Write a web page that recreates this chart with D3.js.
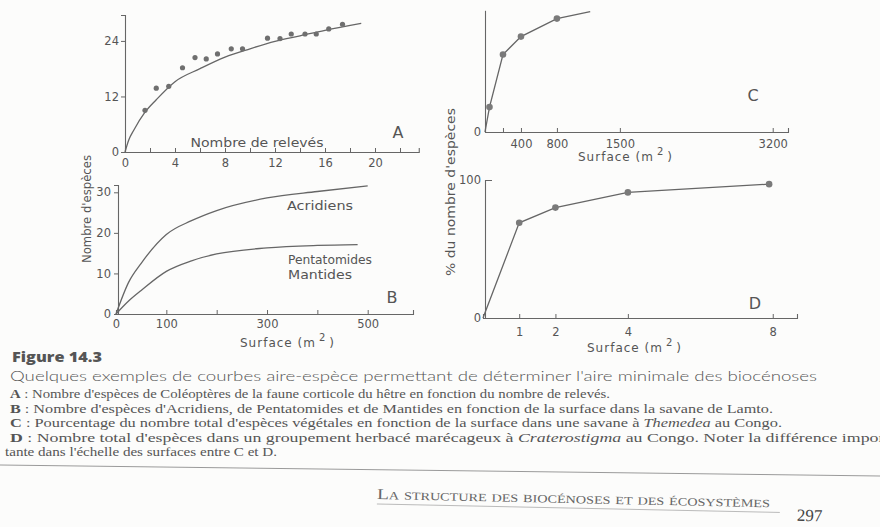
<!DOCTYPE html>
<html>
<head>
<meta charset="utf-8">
<script src="https://cdn.jsdelivr.net/npm/d3@7"></script>
<style>
  body { margin: 0; background: #fcfcfb; }
  svg { display: block; }
</style>
</head>
<body>
<script>
// --- panel A : Coléoptères, nombre de relevés
const relevesA = [1.6, 2.5, 3.5, 4.6, 5.6, 6.5, 7.4, 8.5, 9.4, 11.4, 12.4, 13.3, 14.4, 15.3, 16.3, 17.4];
const especesA = [9, 13.8, 14.2, 18.2, 20.4, 20.1, 21.2, 22.3, 22.3, 24.6, 24.5, 25.5, 25.5, 25.5, 26.6, 27.6];
const courbeAx = [0, 0.3, 0.7, 1.6, 2.5, 4, 6, 8, 10, 12, 14, 16, 18.9];
const courbeAy = [0, 2.6, 4.7, 8.6, 11.3, 15.2, 18, 20.5, 22.3, 23.9, 25.1, 26.3, 27.8];
const ticksAx = [0, 2, 4, 6, 8, 10, 12, 14, 16, 18, 20, 22];
const labelsAx = [0, 4, 8, 12, 16, 20];
const ticksAy = [0, 12, 24];

// --- panel B : Acridiens / Pentatomides-Mantides
const surfaceB1 = [0, 25, 50, 100, 150, 200, 300, 400, 500];
const acridiens = [0, 7.8, 12.5, 19.6, 23, 25.5, 28.6, 30.2, 31.6];
const surfaceB2 = [0, 25, 50, 100, 150, 200, 300, 400, 480];
const pentaMantides = [0, 3.2, 5.8, 10.5, 13.1, 14.8, 16.3, 16.9, 17.1];
const ticksBx = [0, 100, 200, 300, 400, 500];
const labelsBx = [0, 100, 300, 500];
const ticksBy = [0, 10, 20, 30];

// --- panel C : savane à Themedea
const surfaceC = [50, 200, 400, 800];
const pctC = [18, 56, 69, 82];
const finC = [1170, 87];   // the line runs on past the last point
const ticksCx = [200, 400, 800, 1500, 3200];
const labelsCx = [400, 800, 1500, 3200];

// --- panel D : groupement herbacé à Craterostigma
const surfaceD = [1, 2, 4, 7.9];
const pctD = [69, 80, 91, 97];
const ticksDx = [1, 2, 4, 8];
const ticksDy = [0, 100];

const W = 880, H = 527;
const ink = '#666';
const lettering = 'DejaVu Sans, sans-serif';

const svg = d3.select('body').append('svg')
  .attr('width', W)
  .attr('height', H);

svg.append('rect').attr('width', W).attr('height', H).attr('fill', '#fcfcfb');

function styleAxis(g) {
  g.attr('color', ink)
    .attr('font-family', lettering)
    .attr('font-size', 11.5);
  g.select('.domain').attr('stroke-width', 1.1);
  g.selectAll('.tick line').attr('stroke-width', 1);
  g.selectAll('.tick text').attr('fill', '#555');
}

function label(x, y, txt, size, opts = {}) {
  const t = svg.append('text')
    .attr('x', x).attr('y', y)
    .attr('font-family', lettering)
    .attr('font-size', size)
    .attr('fill', '#555')
    .attr('text-anchor', opts.anchor || 'start')
    .text(txt);
  if (opts.len) t.attr('textLength', opts.len).attr('lengthAdjust', 'spacingAndGlyphs');
  return t;
}

function surfaceLabel(x, y) {
  const t = svg.append('text')
    .attr('x', x).attr('y', y)
    .attr('font-family', lettering)
    .attr('font-size', 12)
    .attr('fill', '#555')
    .attr('letter-spacing', 1);
  t.append('tspan').text('Surface (m');
  t.append('tspan').attr('dy', -6).attr('font-size', 10).attr('dx', 3).text('2');
  t.append('tspan').attr('dy', 6).attr('dx', 3).text(')');
}

const line = d3.line().x(d => d[0]).y(d => d[1]);

// ================= A
const xA = d3.scaleLinear().domain([0, 23.5]).range([125, 418.75]);
const yA = d3.scaleLinear().domain([0, 29.6]).range([152, 15]);

svg.append('g')
  .attr('transform', `translate(0,${yA(0)})`)
  .call(d3.axisBottom(xA).tickValues(ticksAx).tickSizeOuter(0).tickSize(-4).tickPadding(7)
    .tickFormat(d => labelsAx.includes(d) ? d : ''))
  .call(styleAxis);

svg.append('g')
  .attr('transform', `translate(${xA(0)},0)`)
  .call(d3.axisLeft(yA).tickValues(ticksAy).tickSizeOuter(0).tickSize(4).tickPadding(2))
  .call(styleAxis);

const courbeA = courbeAx.map((x, i) => [xA(x), yA(courbeAy[i])]);
svg.append('path')
  .attr('d', line.curve(d3.curveMonotoneX)(courbeA))
  .attr('fill', 'none').attr('stroke', ink).attr('stroke-width', 1.3);

svg.append('g').selectAll('circle')
  .data(relevesA.map((x, i) => [x, especesA[i]]))
  .enter().append('circle')
  .attr('cx', d => xA(d[0]))
  .attr('cy', d => yA(d[1]))
  .attr('r', 2.6)
  .attr('fill', '#6f6f6f');

label(257, 147, 'Nombre de relevés', 12, { anchor: 'middle', len: 133 });
label(398, 138, 'A', 16, { anchor: 'middle' });

// ================= B
const xB = d3.scaleLinear().domain([0, 590]).range([116, 413]);
const yB = d3.scaleLinear().domain([0, 31.8]).range([314, 185]);

svg.append('g')
  .attr('transform', `translate(0,${yB(0)})`)
  .call(d3.axisBottom(xB).tickValues(ticksBx).tickSizeOuter(0).tickSize(-4).tickPadding(6)
    .tickFormat(d => labelsBx.includes(d) ? d : ''))
  .call(styleAxis);

svg.append('g')
  .attr('transform', `translate(${xB(0) + 2},0)`)
  .call(d3.axisLeft(yB).tickValues(ticksBy).tickSizeOuter(0).tickSize(4).tickPadding(3))
  .call(styleAxis);

[[surfaceB1, acridiens], [surfaceB2, pentaMantides]].forEach(([xs, ys]) => {
  svg.append('path')
    .attr('d', line.curve(d3.curveMonotoneX)(xs.map((x, i) => [xB(x), yB(ys[i])])))
    .attr('fill', 'none').attr('stroke', ink).attr('stroke-width', 1.3);
});

label(287, 210, 'Acridiens', 12, { len: 66 });
label(288, 264, 'Pentatomides', 12, { len: 84 });
label(288, 279, 'Mantides', 12, { len: 64 });
label(392, 303, 'B', 16, { anchor: 'middle' });
surfaceLabel(240, 347);

svg.append('text')
  .attr('transform', 'translate(91,209) rotate(-90)')
  .attr('font-family', lettering).attr('font-size', 11.5).attr('fill', '#555')
  .attr('text-anchor', 'middle')
  .attr('textLength', 108).attr('lengthAdjust', 'spacingAndGlyphs')
  .text("Nombre d'espèces");

// ================= C
const xC = d3.scaleLinear().domain([0, 3370]).range([485, 788]);
const yC = d3.scaleLinear().domain([0, 88]).range([132, 10.3]);

svg.append('g')
  .attr('transform', `translate(0,${yC(0)})`)
  .call(d3.axisBottom(xC).tickValues(ticksCx).tickSizeOuter(0).tickSize(-4).tickPadding(8)
    .tickFormat(d => labelsCx.includes(d) ? d : ''))
  .call(styleAxis);

svg.append('g')
  .attr('transform', `translate(${xC(0)},0)`)
  .call(d3.axisLeft(yC).tickValues([0]).tickSizeOuter(0).tickSize(0).tickPadding(4))
  .call(styleAxis);

const ptsC = surfaceC.map((x, i) => [x, pctC[i]]);
svg.append('path')
  .attr('d', d3.line()([[0, 0], ...ptsC, finC].map(d => [xC(d[0]), yC(d[1])])))
  .attr('fill', 'none').attr('stroke', ink).attr('stroke-width', 1.3);

svg.append('g').selectAll('circle')
  .data(ptsC)
  .enter().append('circle')
  .attr('cx', d => xC(d[0]))
  .attr('cy', d => yC(d[1]))
  .attr('r', 3.3)
  .attr('fill', '#7a7a7a');

label(753, 101, 'C', 16, { anchor: 'middle' });
surfaceLabel(578, 161);

// ================= D
const xD = d3.scaleLinear().domain([0, 8.67]).range([483, 797]);
const yD = d3.scaleLinear().domain([0, 100]).range([318, 180]);

svg.append('g')
  .attr('transform', `translate(0,${yD(0)})`)
  .call(d3.axisBottom(xD).tickValues(ticksDx).tickSizeOuter(0).tickSize(-4).tickPadding(10))
  .call(styleAxis);

svg.append('g')
  .attr('transform', `translate(${xD(0) + 2},0)`)
  .call(d3.axisLeft(yD).tickValues(ticksDy).tickSizeOuter(0).tickSize(-7).tickPadding(4))
  .call(g => g.selectAll('.tick text').attr('x', -4))
  .call(styleAxis);

const ptsD = surfaceD.map((x, i) => [x, pctD[i]]);
svg.append('path')
  .attr('d', d3.line()([[0, 0], ...ptsD].map(d => [xD(d[0]), yD(d[1])])))
  .attr('fill', 'none').attr('stroke', ink).attr('stroke-width', 1.3);

svg.append('g').selectAll('circle')
  .data(ptsD)
  .enter().append('circle')
  .attr('cx', d => xD(d[0]))
  .attr('cy', d => yD(d[1]))
  .attr('r', 3.3)
  .attr('fill', '#7a7a7a');

label(755, 309, 'D', 16, { anchor: 'middle' });
surfaceLabel(587, 352);

svg.append('text')
  .attr('transform', 'translate(455,192) rotate(-90)')
  .attr('font-family', lettering).attr('font-size', 11.5).attr('fill', '#555')
  .attr('text-anchor', 'middle')
  .attr('textLength', 168).attr('lengthAdjust', 'spacingAndGlyphs')
  .text("% du nombre d'espèces");

// ================= caption
const cap = svg.append('g');

cap.append('text')
  .attr('x', 12).attr('y', 362)
  .attr('font-family', 'Open Sans, sans-serif').attr('font-weight', 800)
  .attr('font-size', 13.5).attr('fill', '#555')
  .attr('textLength', 90).attr('lengthAdjust', 'spacingAndGlyphs')
  .text('Figure 14.3');

cap.append('text')
  .attr('x', 10).attr('y', 381)
  .attr('font-family', 'Lato, sans-serif').attr('font-weight', 300)
  .attr('font-size', 14.5).attr('fill', '#555')
  .attr('textLength', 807).attr('lengthAdjust', 'spacingAndGlyphs')
  .text("Quelques exemples de courbes aire-espèce permettant de déterminer l'aire minimale des biocénoses");

const lignes = [
  ['A', [[" : Nombre d'espèces de Coléoptères de la faune corticole du hêtre en fonction du nombre de relevés.", false]], 398, 600],
  ['B', [[" : Nombre d'espèces d'Acridiens, de Pentatomides et de Mantides en fonction de la surface dans la savane de Lamto.", false]], 412.5, 763],
  ['C', [[" : Pourcentage du nombre total d'espèces végétales en fonction de la surface dans une savane à ", false], ['Themedea', true], [' au Congo.', false]], 427, 772],
  ['D', [[" : Nombre total d'espèces dans un groupement herbacé marécageux à ", false], ['Craterostigma', true], [' au Congo. Noter la différence impor-', false]], 441.5, 880],
  ['', [["tante dans l'échelle des surfaces entre C et D.", false]], 456, 272]
];

lignes.forEach(([lettre, parts, y, len]) => {
  const t = cap.append('text')
    .attr('x', lettre ? 10 : 5).attr('y', y)
    .attr('font-family', 'Liberation Serif, serif')
    .attr('font-size', 11.5).attr('fill', '#555')
    .attr('textLength', len).attr('lengthAdjust', 'spacingAndGlyphs');
  if (lettre) t.append('tspan').attr('font-weight', 'bold').text(lettre);
  parts.forEach(([s, it]) => t.append('tspan').attr('font-style', it ? 'italic' : 'normal').text(s));
});

// ================= running footer
svg.append('line')
  .attr('x1', 0).attr('y1', 465).attr('x2', 880).attr('y2', 476)
  .attr('stroke', '#9a9a9a').attr('stroke-width', 1);

const foot = svg.append('g').attr('transform', 'rotate(1.2,377,499)');
foot.append('text')
  .attr('x', 377).attr('y', 499)
  .attr('font-family', 'Liberation Serif, serif')
  .attr('font-size', 15).attr('fill', '#666')
  .style('font-variant', 'small-caps')
  .attr('textLength', 393).attr('lengthAdjust', 'spacingAndGlyphs')
  .text('La structure des biocénoses et des écosystèmes');
foot.append('line')
  .attr('x1', 377).attr('y1', 504).attr('x2', 780).attr('y2', 504)
  .attr('stroke', '#aaa').attr('stroke-width', 0.8);
foot.append('text')
  .attr('x', 420 + 377).attr('y', 512)
  .attr('font-family', 'Liberation Serif, serif')
  .attr('font-size', 17).attr('fill', '#444')
  .text('297');
</script>
</body>
</html>
